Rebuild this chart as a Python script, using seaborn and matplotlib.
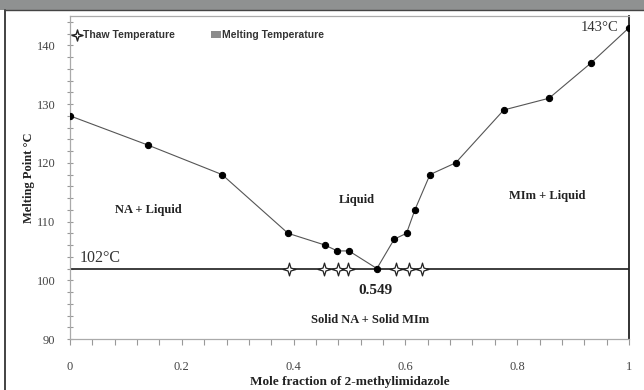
import matplotlib
matplotlib.use("Agg")
import matplotlib.pyplot as plt
import seaborn as sns
from matplotlib.lines import Line2D
from matplotlib.patches import Patch, Rectangle
from matplotlib.path import Path
from matplotlib.ticker import MultipleLocator

# ── Data ──────────────────────────────────────────────────────────────────────
melt_x = [0.0, 0.14, 0.272, 0.39, 0.456, 0.478, 0.499, 0.549, 0.58, 0.602,
          0.617, 0.644, 0.69, 0.776, 0.857, 0.932, 1.0]
melt_y = [128, 123, 118, 108, 106, 105, 105, 102, 107, 108,
          112, 118, 120, 129, 131, 137, 143]

thaw_x = [0.392, 0.454, 0.48, 0.498, 0.584, 0.606, 0.630]
THAW_TEMP = 102
EUTECTIC_X = 0.549

region_labels = ["NA + Liquid", "Liquid", "MIm + Liquid", "Solid NA + Solid MIm"]
region_x = [0.14, 0.513, 0.853, 0.537]
region_y = [111.9, 113.6, 114.3, 93.2]

# ── Style ─────────────────────────────────────────────────────────────────────
sns.set_style("ticks")
plt.rcParams["font.family"] = ["Liberation Serif", "DejaVu Serif"]

STAR = Path.unit_regular_star(4, innerCircle=0.32)

fig = plt.figure(figsize=(6.44, 3.9), dpi=100)
ax = fig.add_axes([70 / 644, 1 - 339 / 390, 559 / 644, 323 / 390])

# title band + panel border (title text is cut off in the source)
fig.patches.append(Rectangle((0, 1 - 10 / 390), 1, 10 / 390, transform=fig.transFigure,
                             facecolor="#8f9191", edgecolor="none", zorder=0))
fig.lines.append(Line2D([5 / 644, 5 / 644], [0, 1 - 10 / 390], transform=fig.transFigure,
                        color="#222222", lw=1.2))
fig.lines.append(Line2D([5 / 644, 1], [1 - 10 / 390, 1 - 10 / 390], transform=fig.transFigure,
                        color="#444444", lw=1.0))

# thaw line
thaw_line_x = [0, 1]
sns.lineplot(x=thaw_line_x, y=[THAW_TEMP] * 2, ax=ax, color="#2e2e2e", lw=1.3, zorder=2)
sns.scatterplot(x=thaw_x, y=[THAW_TEMP] * len(thaw_x), ax=ax, marker=STAR, s=85,
                color="white", edgecolor="#222222", linewidth=0.9, zorder=3)

# melting curve
sns.lineplot(x=melt_x, y=melt_y, ax=ax, color="#555555", lw=0.8, marker="o",
             markersize=4.5, markerfacecolor="black", markeredgecolor="black", zorder=4)

ax.set_xlim(0, 1)
ax.set_ylim(90, 145)
ax.xaxis.set_major_locator(MultipleLocator(0.2))
ax.xaxis.set_minor_locator(MultipleLocator(0.04))
ax.yaxis.set_major_locator(MultipleLocator(10))
ax.yaxis.set_minor_locator(MultipleLocator(2))
ax.set_xticks([0, 0.2, 0.4, 0.6, 0.8, 1.0])
ax.set_xticklabels(["0", "0.2", "0.4", "0.6", "0.8", "1"])

ax.tick_params(axis="x", which="both", direction="out", length=4, width=0.8,
               color="#999999", labelsize=9, labelcolor="#444444", pad=12)
ax.tick_params(axis="y", which="both", direction="inout", length=5, width=0.8,
               color="#999999", labelsize=9, labelcolor="#444444", pad=8)

for side in ["left", "bottom", "top"]:
    ax.spines[side].set_color("#aaaaaa")
    ax.spines[side].set_linewidth(0.9)
ax.spines["right"].set_color("#222222")
ax.spines["right"].set_linewidth(1.3)

ax.set_xlabel("Mole fraction of 2-methylimidazole", fontsize=9.5, fontweight="bold",
              color="#222222", labelpad=2)
ax.set_ylabel("Melting Point °C", fontsize=9, fontweight="bold", color="#222222",
              labelpad=1.5)

# annotations
for label, x, y in zip(region_labels, region_x, region_y):
    ax.text(x, y, label, fontsize=9, fontweight="bold", color="#222222",
            ha="center", va="center")
ax.text(EUTECTIC_X - 0.003, 98.3, f"{EUTECTIC_X}", fontsize=11, fontweight="bold",
        color="#222222", ha="center", va="center")
ax.text(0.017, THAW_TEMP + 0.5, f"{THAW_TEMP}°C", fontsize=11.5, color="#333333",
        ha="left", va="bottom")
ax.text(0.982, melt_y[-1], f"{melt_y[-1]}°C", fontsize=10.5, color="#333333",
        ha="right", va="center")

# legend
handles = [
    Line2D([], [], color="#222222", lw=1.0, marker=STAR, markersize=8,
           markerfacecolor="white", markeredgecolor="#222222"),
    Patch(facecolor="#8c8c8c", edgecolor="none"),
]
leg = ax.legend(handles, ["Thaw Temperature", "Melting Temperature"], ncol=2,
                loc="upper left", bbox_to_anchor=(-0.012, 0.985), frameon=False,
                handlelength=0.9, handletextpad=0.1, columnspacing=3.5,
                prop={"family": "Liberation Sans", "weight": "bold", "size": 7.5})
for t in leg.get_texts():
    t.set_color("#333333")

fig.savefig("out.png", dpi=100)
